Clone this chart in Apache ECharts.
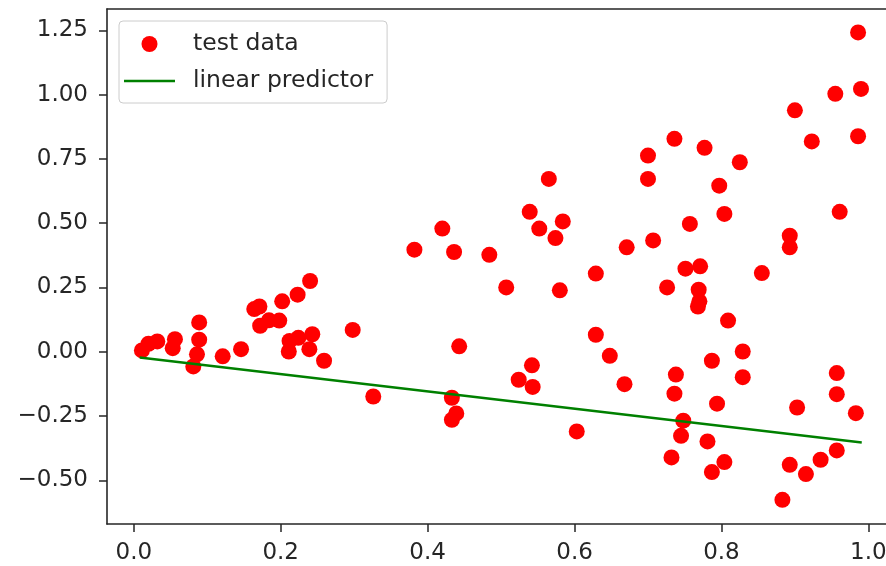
<!DOCTYPE html>
<html>
<head>
<meta charset="utf-8">
<script src="https://cdn.jsdelivr.net/npm/echarts@6/dist/echarts.min.js"></script>
<style>
html,body{margin:0;padding:0;background:#fff;overflow:hidden;}
#chart{width:886px;height:566px;}
</style>
</head>
<body>
<div id="chart"></div>
<script>
// ---- data ----
const testX = [0.011,0.020,0.032,0.056,0.053,0.089,0.089,0.086,0.081,0.121,0.146,0.164,0.171,0.172,0.184,0.198,0.202,0.223,0.240,0.212,0.211,0.224,0.243,0.239,0.259,0.298,0.326,0.382,0.420,0.436,0.484,0.507,0.443,0.433,0.439,0.433,0.542,0.524,0.543,0.539,0.552,0.574,0.565,0.584,0.580,0.629,0.671,0.707,0.700,0.700,0.736,0.777,0.757,0.751,0.771,0.726,0.769,0.770,0.768,0.629,0.648,0.668,0.603,0.738,0.736,0.748,0.745,0.732,0.787,0.781,0.855,0.809,0.829,0.829,0.794,0.804,0.787,0.903,0.957,0.957,0.983,0.957,0.935,0.915,0.893,0.883,0.986,0.990,0.955,0.900,0.923,0.986,0.825,0.797,0.804,0.961,0.893,0.893];
const testY = [0.005,0.031,0.040,0.049,0.014,0.114,0.047,-0.010,-0.057,-0.018,0.010,0.166,0.176,0.101,0.122,0.121,0.196,0.222,0.275,0.042,0.001,0.054,0.068,0.010,-0.035,0.085,-0.174,0.397,0.479,0.388,0.377,0.250,0.021,-0.179,-0.240,-0.265,-0.053,-0.109,-0.137,0.544,0.479,0.442,0.672,0.507,0.239,0.304,0.406,0.433,0.763,0.672,0.828,0.793,0.497,0.323,0.332,0.250,0.241,0.196,0.176,0.066,-0.016,-0.126,-0.310,-0.089,-0.163,-0.268,-0.327,-0.411,-0.035,-0.349,0.306,0.121,0.001,-0.099,-0.202,-0.429,-0.468,-0.217,-0.083,-0.165,-0.239,-0.384,-0.420,-0.476,-0.440,-0.576,1.242,1.022,1.003,0.939,0.818,0.838,0.737,0.646,0.536,0.544,0.451,0.406];
const predX = [0.008, 0.991];
const predY = [-0.022, -0.353];
const xTicks = [0.0, 0.2, 0.4, 0.6, 0.8, 1.0];
const yTicks = [-0.5, -0.25, 0.0, 0.25, 0.5, 0.75, 1.0, 1.25];
const seriesNames = ['test data', 'linear predictor'];

const scatterData = testX.map((x, i) => [x, testY[i]]);
const lineData = predX.map((x, i) => [x, predY[i]]);

const FONT = 'DejaVu Sans';
const TXT = '#262626';
const SPINE = {color: '#262626', width: 1.6};
const X_MIN = -0.0365, X_MAX = 1.039;

const chart = echarts.init(document.getElementById('chart'), null, {renderer: 'canvas'});
chart.setOption({
  animation: false,
  backgroundColor: '#ffffff',
  grid: {left: 107, top: 9, width: 790, height: 515, show: false, outerBoundsMode: 'none', containLabel: false},
  legend: {
    orient: 'vertical',
    left: 119, top: 21,
    padding: [11, 14, 10, 5],
    itemWidth: 51, itemHeight: 16, itemGap: 13,
    backgroundColor: 'rgba(255,255,255,0.8)',
    borderColor: '#cccccc', borderWidth: 1, borderRadius: 4,
    textStyle: {fontFamily: FONT, fontSize: 23.5, color: TXT, lineHeight: 20, padding: [0, 0, 0, 13]},
    data: [
      {name: seriesNames[0], icon: 'circle'},
      {name: seriesNames[1], icon: 'path://M0,0h0.001v0.001h-0.001z M0,6.75h51v2.5h-51z M50.999,15.999h0.001v0.001h-0.001z'}
    ]
  },
  xAxis: [
    {
      type: 'value', min: X_MIN, max: X_MAX, position: 'bottom',
      splitLine: {show: false},
      axisLine: {show: true, onZero: false, lineStyle: SPINE},
      axisTick: {show: true, inside: false, length: 8, lineStyle: {color: '#262626', width: 1.5}, customValues: xTicks},
      axisLabel: {
        customValues: xTicks, margin: 18,
        fontFamily: FONT, fontSize: 23, color: TXT,
        formatter: v => v.toFixed(1)
      }
    },
    {
      type: 'value', min: X_MIN, max: X_MAX, position: 'top',
      splitLine: {show: false},
      axisLine: {show: true, onZero: false, lineStyle: SPINE},
      axisTick: {show: false}, axisLabel: {show: false}
    }
  ],
  yAxis: {
    type: 'value', min: -0.670, max: 1.333,
    splitLine: {show: false},
    axisLine: {show: true, onZero: false, lineStyle: SPINE},
    axisTick: {show: true, inside: false, length: 8, lineStyle: {color: '#262626', width: 1.5}, customValues: yTicks},
    axisLabel: {
      customValues: yTicks, margin: 19,
      fontFamily: FONT, fontSize: 23, color: TXT,
      formatter: v => (v < 0 ? '\u2212' : '') + Math.abs(v).toFixed(2)
    }
  },
  series: [
    {
      name: seriesNames[0], type: 'scatter', data: scatterData,
      xAxisIndex: 0,
      symbol: 'circle', symbolSize: 16,
      itemStyle: {color: '#ff0000', opacity: 1}
    },
    {
      name: seriesNames[1], type: 'line', data: lineData,
      xAxisIndex: 0,
      symbol: 'none', showSymbol: false,
      lineStyle: {color: '#008000', width: 2.5},
      itemStyle: {color: '#008000'}
    }
  ]
});
</script>
</body>
</html>
